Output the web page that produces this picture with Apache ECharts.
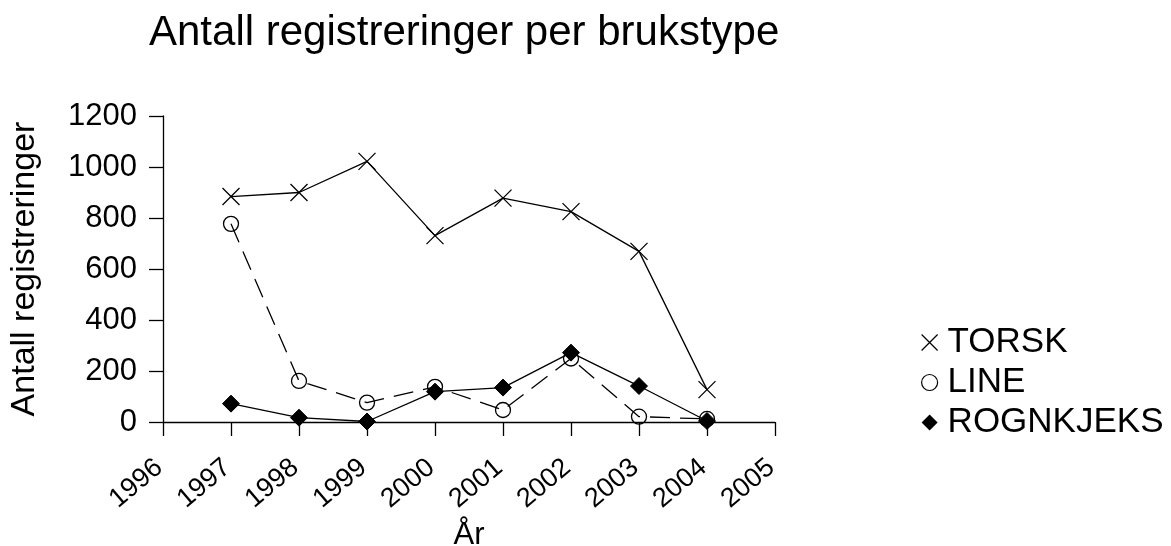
<!DOCTYPE html>
<html><head><meta charset="utf-8">
<script src="https://cdn.jsdelivr.net/npm/echarts@6/dist/echarts.min.js"></script>
<style>html,body{margin:0;padding:0;background:#fff}#c{width:1171px;height:546px}</style>
</head><body><div id="c"></div>
<script>
const years = [1997, 1998, 1999, 2000, 2001, 2002, 2003, 2004];
const torsk = [884, 900, 1022, 731, 878, 825, 669, 127];
const line = [777, 161, 76, 138, 47, 249, 21, 12];
const rognkjeks = [72, 17, 2, 119, 135, 272, 141, 4];
const seriesNames = ['TORSK', 'LINE', 'ROGNKJEKS'];
const FONT = '"Liberation Sans", Arial, sans-serif';
const crossPath = 'path://M0,0L10,10M10,0L0,10';
function pairs(vals){ return years.map((y,i)=>[y, vals[i]]); }
const chart = echarts.init(document.getElementById('c'));
chart.setOption({
  animation: false,
  backgroundColor: '#fff',
  title: { text: 'Antall registreringer per brukstype', left: 144, top: 7,
    textStyle: { fontFamily: FONT, fontWeight: 'normal', fontSize: 42, color: '#000' } },
  grid: { left: 163, right: 396, top: 116, bottom: 124, containLabel: false, outerBoundsMode: 'none' },
  xAxis: { type: 'value', min: 1996, max: 2005, interval: 1,
    name: 'År', nameLocation: 'middle', nameGap: 96,
    nameTextStyle: { fontFamily: FONT, fontSize: 31, color: '#000' },
    axisLine: { lineStyle: { color: '#000', width: 1.3 } },
    axisTick: { length: 14, lineStyle: { color: '#000', width: 1.3 } },
    splitLine: { show: false },
    axisLabel: { rotate: 40, margin: 39, fontFamily: FONT, fontSize: 27, color: '#000',
      padding: [0, 5, 0, 0], hideOverlap: false, formatter: v => String(v) } },
  yAxis: { type: 'value', min: 0, max: 1200, interval: 200,
    name: 'Antall registreringer', nameLocation: 'middle', nameGap: 121, nameRotate: 90,
    nameTextStyle: { fontFamily: FONT, fontSize: 34, color: '#000' },
    axisLine: { show: true, lineStyle: { color: '#000', width: 1.3 } },
    axisTick: { show: true, length: 14, lineStyle: { color: '#000', width: 1.3 } },
    splitLine: { show: false },
    axisLabel: { margin: 26, fontFamily: FONT, fontSize: 31, color: '#000',
      formatter: v => String(v) } },
  legend: { orient: 'vertical', left: 921, top: 325, padding: 0, itemGap: 5, itemWidth: 16, itemHeight: 16,
    textStyle: { fontFamily: FONT, fontSize: 35, color: '#000', padding: [0, 0, 0, 5] },
    data: [
      { name: seriesNames[0], icon: crossPath, itemStyle: { color: 'transparent', borderColor: '#000', borderWidth: 1.2 } },
      { name: seriesNames[1], icon: 'circle', itemStyle: { color: '#fff', borderColor: '#000', borderWidth: 1.2 } },
      { name: seriesNames[2], icon: 'diamond', itemStyle: { color: '#000' } }
    ] },
  series: [
    { name: seriesNames[0], type: 'line', data: pairs(torsk), symbol: crossPath, symbolSize: 17,
      itemStyle: { color: 'transparent', borderColor: '#000', borderWidth: 1.3 },
      lineStyle: { color: '#000', width: 1.3 } },
    { name: seriesNames[1], type: 'line', data: pairs(line), symbol: 'circle', symbolSize: 15,
      itemStyle: { color: 'transparent', borderColor: '#000', borderWidth: 1.3 },
      lineStyle: { color: '#000', width: 1.3, type: [20, 10] } },
    { name: seriesNames[2], type: 'line', data: pairs(rognkjeks), symbol: 'diamond', symbolSize: 17,
      itemStyle: { color: '#000', borderColor: '#000' },
      lineStyle: { color: '#000', width: 1.3 } }
  ]
});
</script></body></html>
